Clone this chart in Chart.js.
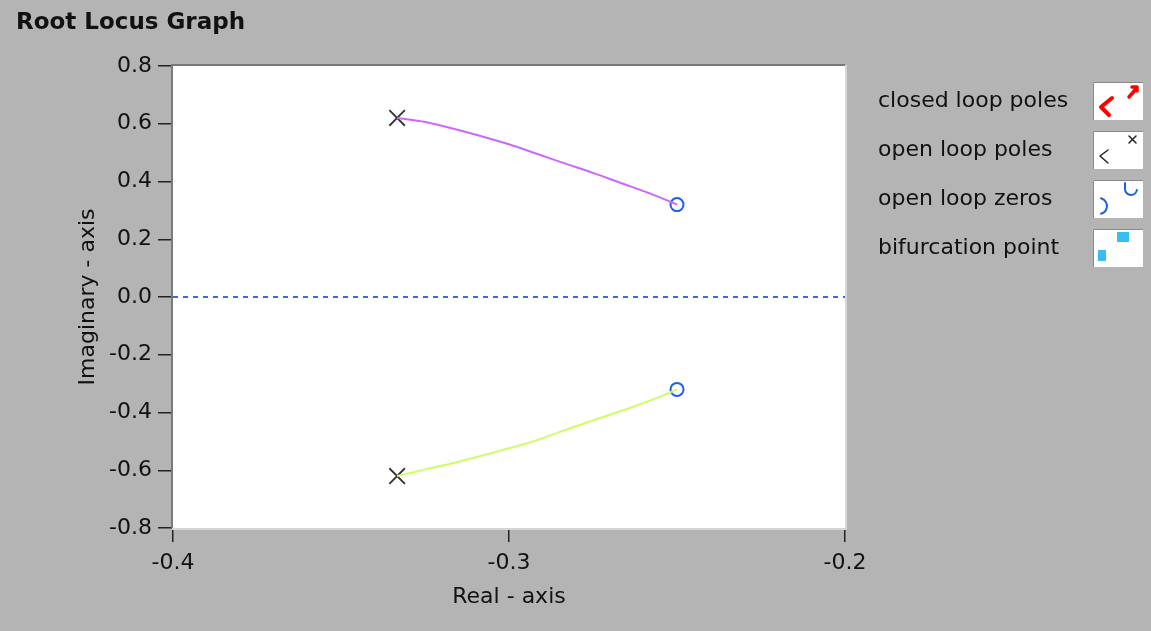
<!DOCTYPE html>
<html>
<head>
<meta charset="utf-8">
<script src="https://cdn.jsdelivr.net/npm/chart.js@4.4.0/dist/chart.umd.min.js"></script>
<style>
  html, body { margin: 0; padding: 0; background: #b4b4b4; }
  #wrap { width: 1151px; height: 631px; }
</style>
</head>
<body>
<div id="wrap"><canvas id="rootLocus" width="1151" height="631"></canvas></div>
<script>
// branch 1 (upper half plane)
const upperRe = [-0.3333, -0.3249, -0.3165, -0.3082, -0.2998, -0.2915, -0.2832, -0.2748, -0.2665, -0.2581, -0.25];
const upperIm = [0.620, 0.606, 0.583, 0.557, 0.528, 0.495, 0.462, 0.429, 0.394, 0.359, 0.320];
// branch 2 (lower half plane)
const lowerRe = [-0.3333, -0.3249, -0.3165, -0.3082, -0.2998, -0.2915, -0.2832, -0.2748, -0.2665, -0.2581, -0.25];
const lowerIm = [-0.620, -0.597, -0.575, -0.550, -0.523, -0.495, -0.460, -0.427, -0.394, -0.359, -0.320];

const poleRe = [-0.3333, -0.3333];
const poleIm = [0.620, -0.620];
const zeroRe = [-0.25, -0.25];
const zeroIm = [0.320, -0.320];

const realAxisRe = [-0.4, -0.2];
const realAxisIm = [0, 0];

const yTicks = [0.8, 0.6, 0.4, 0.2, 0.0, -0.2, -0.4, -0.6, -0.8];
const xTicks = [-0.4, -0.3, -0.2];

const legendLabels = ["closed loop poles", "open loop poles", "open loop zeros", "bifurcation point"];

function pts(xs, ys) {
    return xs.map((x, i) => ({ x: x, y: ys[i] }));
}

const FONT = "'DejaVu Sans', sans-serif";

// white plot area with sunken frame
const plotBackground = {
    id: "plotBackground",
    beforeDatasetsDraw(chart) {
        const { ctx, chartArea: a } = chart;
        ctx.save();
        ctx.fillStyle = "#ffffff";
        ctx.fillRect(a.left, a.top, a.right - a.left, a.bottom - a.top);
        ctx.lineWidth = 2;
        ctx.strokeStyle = "#7a7a7a";
        ctx.beginPath();
        ctx.moveTo(a.left - 1, a.bottom);
        ctx.lineTo(a.left - 1, a.top - 1);
        ctx.lineTo(a.right, a.top - 1);
        ctx.stroke();
        ctx.strokeStyle = "#d6d6d6";
        ctx.beginPath();
        ctx.moveTo(a.right + 1, a.top - 1);
        ctx.lineTo(a.right + 1, a.bottom + 1);
        ctx.lineTo(a.left - 1, a.bottom + 1);
        ctx.stroke();
        ctx.restore();
    }
};

// title, axis names and the legend with its little sample boxes
const decorations = {
    id: "decorations",
    afterDraw(chart) {
        const { ctx, chartArea: a } = chart;
        ctx.save();
        ctx.fillStyle = "#111111";
        ctx.textBaseline = "middle";

        ctx.font = "bold 23px " + FONT;
        ctx.textAlign = "left";
        ctx.fillText("Root Locus Graph", 16, 23);

        ctx.font = "22px " + FONT;
        ctx.textAlign = "center";
        ctx.fillText("Real - axis", (a.left + a.right) / 2, 597);

        ctx.save();
        ctx.translate(88, (a.top + a.bottom) / 2);
        ctx.rotate(-Math.PI / 2);
        ctx.fillText("Imaginary - axis", 0, 0);
        ctx.restore();

        ctx.textAlign = "left";
        legendLabels.forEach((label, i) => {
            const cy = 101 + i * 49;
            ctx.fillStyle = "#111111";
            ctx.fillText(label, 878, cy);
            const bx = 1093, by = cy - 19, bw = 50, bh = 38;
            ctx.fillStyle = "#ffffff";
            ctx.fillRect(bx, by, bw, bh);
            ctx.strokeStyle = "#8a8a8a";
            ctx.lineWidth = 1;
            ctx.beginPath();
            ctx.moveTo(bx + 0.5, by + bh);
            ctx.lineTo(bx + 0.5, by + 0.5);
            ctx.lineTo(bx + bw, by + 0.5);
            ctx.stroke();
            drawSample(ctx, i, bx, by);
        });
        ctx.restore();
    }
};

function drawSample(ctx, i, bx, by) {
    ctx.save();
    ctx.lineCap = "round";
    ctx.lineJoin = "round";
    if (i === 0) {
        ctx.strokeStyle = "#ff0000";
        ctx.lineWidth = 4;
        ctx.beginPath();
        ctx.moveTo(bx + 19, by + 16);
        ctx.lineTo(bx + 8, by + 25);
        ctx.lineTo(bx + 16, by + 33);
        ctx.stroke();
        ctx.lineWidth = 3.5;
        ctx.beginPath();
        ctx.moveTo(bx + 36, by + 15);
        ctx.lineTo(bx + 43, by + 7);
        ctx.moveTo(bx + 39, by + 5);
        ctx.lineTo(bx + 44, by + 5);
        ctx.lineTo(bx + 44, by + 9);
        ctx.stroke();
    } else if (i === 1) {
        ctx.strokeStyle = "#222222";
        ctx.lineWidth = 1.5;
        ctx.beginPath();
        ctx.moveTo(bx + 15, by + 19);
        ctx.lineTo(bx + 7, by + 25);
        ctx.lineTo(bx + 15, by + 32);
        ctx.stroke();
        ctx.beginPath();
        ctx.moveTo(bx + 36, by + 5);
        ctx.lineTo(bx + 43, by + 12);
        ctx.moveTo(bx + 43, by + 5);
        ctx.lineTo(bx + 36, by + 12);
        ctx.stroke();
    } else if (i === 2) {
        ctx.strokeStyle = "#1f5fe6";
        ctx.lineWidth = 2;
        ctx.beginPath();
        ctx.arc(bx + 6, by + 26, 8, -Math.PI * 0.42, Math.PI * 0.42);
        ctx.stroke();
        ctx.beginPath();
        ctx.moveTo(bx + 32, by + 3);
        ctx.lineTo(bx + 32, by + 9);
        ctx.arc(bx + 38, by + 9, 6, Math.PI, Math.PI * 0.05, true);
        ctx.stroke();
    } else {
        ctx.fillStyle = "#38bdf2";
        ctx.fillRect(bx + 5, by + 21, 8, 11);
        ctx.fillRect(bx + 24, by + 3, 12, 10);
    }
    ctx.restore();
}

const tickFont = { family: FONT, size: 22 };

new Chart(document.getElementById("rootLocus"), {
    type: "scatter",
    data: {
        datasets: [
            {
                label: "real axis",
                data: pts(realAxisRe, realAxisIm),
                showLine: true,
                borderColor: "#2f6fe4",
                borderWidth: 2,
                borderDash: [5, 5],
                pointRadius: 0
            },
            {
                label: "branch 1",
                data: pts(upperRe, upperIm),
                showLine: true,
                tension: 0.35,
                borderColor: "#cc66ff",
                borderWidth: 2,
                pointRadius: 0
            },
            {
                label: "branch 2",
                data: pts(lowerRe, lowerIm),
                showLine: true,
                tension: 0.35,
                borderColor: "#ccff66",
                borderWidth: 2,
                pointRadius: 0
            },
            {
                label: "open loop poles",
                data: pts(poleRe, poleIm),
                pointStyle: "crossRot",
                pointRadius: 11,
                borderColor: "#333333",
                borderWidth: 1.8
            },
            {
                label: "open loop zeros",
                data: pts(zeroRe, zeroIm),
                pointStyle: "circle",
                pointRadius: 6.5,
                borderColor: "#1f5fe6",
                backgroundColor: "rgba(0,0,0,0)",
                borderWidth: 2
            }
        ]
    },
    options: {
        responsive: false,
        animation: false,
        clip: false,
        layout: {
            padding: { left: 0, top: 66, right: 306, bottom: 0 }
        },
        plugins: {
            legend: { display: false },
            title: { display: false },
            tooltip: { enabled: false }
        },
        scales: {
            x: {
                type: "linear",
                min: -0.4,
                max: -0.2,
                afterFit: s => { s.height = 103; },
                afterBuildTicks: s => { s.ticks = xTicks.map(v => ({ value: v })); },
                border: { display: false },
                grid: {
                    drawOnChartArea: false,
                    drawTicks: true,
                    tickLength: 14,
                    lineWidth: 1.5,
                    color: "#222222"
                },
                ticks: {
                    color: "#111111",
                    font: tickFont,
                    padding: 8,
                    maxRotation: 0,
                    callback: v => v.toFixed(1)
                }
            },
            y: {
                type: "linear",
                min: -0.8,
                max: 0.8,
                afterFit: s => { s.width = 173; },
                afterBuildTicks: s => { s.ticks = yTicks.map(v => ({ value: v })); },
                border: { display: false },
                grid: {
                    drawOnChartArea: false,
                    drawTicks: true,
                    tickLength: 15,
                    lineWidth: 1.5,
                    color: "#222222"
                },
                ticks: {
                    color: "#111111",
                    font: tickFont,
                    padding: 6,
                    callback: v => v.toFixed(1)
                }
            }
        }
    },
    plugins: [plotBackground, decorations]
});
</script>
</body>
</html>
